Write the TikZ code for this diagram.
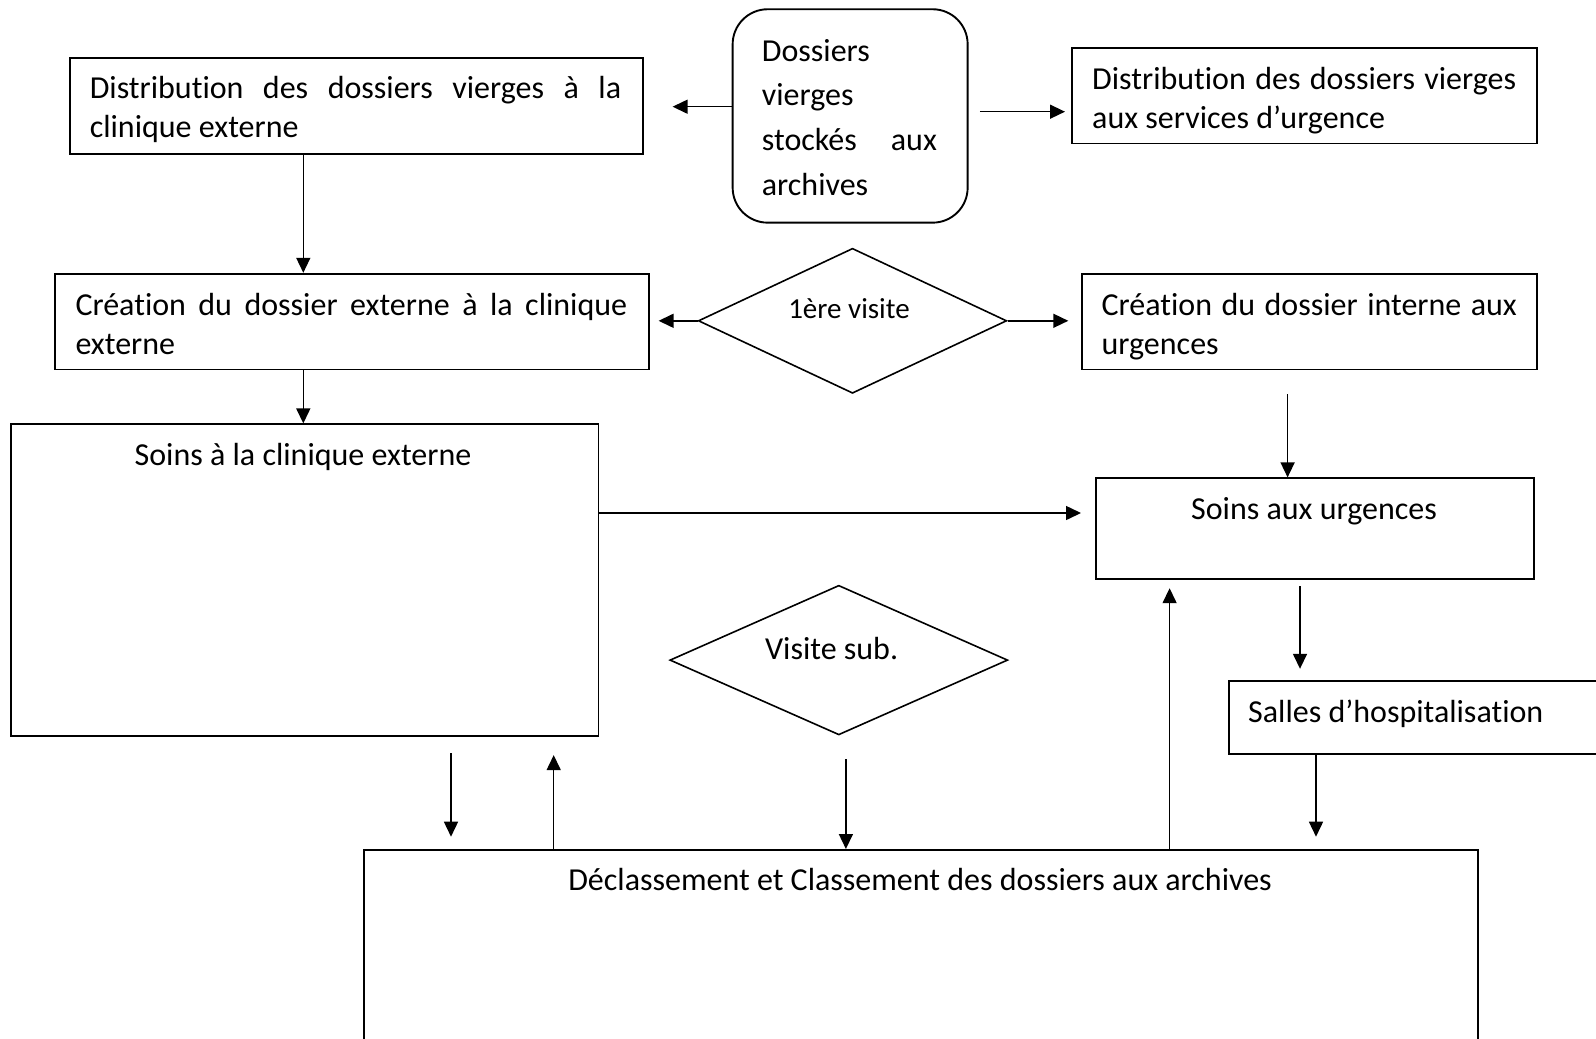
\documentclass[tikz,border=0pt]{standalone}
\usepackage{fontspec}
\setmainfont{Carlito}[RawFeature={-liga;-clig;-calt;-dlig}]
\usetikzlibrary{arrows.meta,shapes.geometric}
\hyphenpenalty=10000
\exhyphenpenalty=10000
\tolerance=10000
\hbadness=10000
\begin{document}
\begin{tikzpicture}[x=1pt,y=-1pt,
  box/.style={draw, line width=1.9pt, inner sep=0pt, anchor=north west},
  rbox/.style={box, rounded corners=35pt},
  dia/.style={draw, diamond, line width=1.6pt, inner sep=0pt},
  txt/.style={inner sep=0pt, font=\fontsize{32}{39}\selectfont},
  jtxt/.style={txt, anchor=base west, align=justify},
  ctxt/.style={txt, anchor=base},
  arr/.style={line width=1.5pt, -{Triangle[length=15pt,width=14pt]}},
]
\fill[white] (0,0) rectangle (1596,1039);
\useasboundingbox (0,0) rectangle (1596,1039);

% boxes
\node[box, minimum width=573.1pt, minimum height=95.7pt] (A) at (69.2,57) {};
\node[jtxt, text width=531.4pt] (At) at (89.6,98.5) {Distribution des dossiers vierges à la clinique externe};

\node[rbox, minimum width=235pt, minimum height=213.4pt] (B) at (731.7,8.3) {};
\node[txt, anchor=base west, align=left, text width=175pt, font=\fontsize{32}{44.8}\selectfont] (Bt) at (761.7,61) {Dossiers\\vierges\\stockés\hfill aux\\archives};

\node[box, minimum width=465.2pt, minimum height=95.7pt] (C) at (1070.8,46.8) {};
\node[jtxt, text width=424pt] (Ct) at (1092,89.4) {Distribution des dossiers vierges aux services d’urgence};

\node[box, minimum width=594.4pt, minimum height=95.7pt] (D) at (54,272.8) {};
\node[jtxt, text width=551.7pt] (Dt) at (75.3,315.4) {Création du dossier externe à la clinique externe};

\node[dia, minimum width=308.4pt, minimum height=145pt] (E) at (852.5,320.8) {};
\node[ctxt, font=\fontsize{29}{34}\selectfont] (Et) at (849,318.3) {1ère visite};

\node[box, minimum width=455pt, minimum height=95.7pt] (F) at (1081,272.8) {};
\node[jtxt, text width=415.3pt] (Ft) at (1101.4,315.4) {Création du dossier interne aux urgences};

\node[box, minimum width=587.3pt, minimum height=311.5pt] (G) at (10.2,423.4) {};
\node[ctxt] (Gt) at (303,465) {Soins à la clinique externe};

\node[box, minimum width=437.7pt, minimum height=100.8pt] (H) at (1095.3,477.4) {};
\node[ctxt] (Ht) at (1314,519) {Soins aux urgences};

\node[box, minimum width=400pt, minimum height=73.2pt] (I) at (1227.6,680) {};
\node[txt, anchor=base west] (It) at (1248,722) {Salles d’hospitalisation};

\node[dia, minimum width=337.9pt, minimum height=149.6pt] (J) at (838.8,660.1) {};
\node[ctxt] (Jt) at (831.6,659.4) {Visite sub.};

\node[box, minimum width=1113.6pt, minimum height=250pt] (K) at (363.4,849) {};
\node[ctxt] (Kt) at (920,890) {Déclassement et Classement des dossiers aux archives};

% helper coordinates
\coordinate (hBA) at (0,106.7);
\coordinate (hBC) at (0,111.7);
\coordinate (hGH) at (0,513);
\coordinate (vA) at (303.3,0);
\coordinate (vFH) at (1287.6,0);
\coordinate (vHI) at (1300,0);
\coordinate (vIK) at (1316,0);
\coordinate (vJK) at (845.9,0);
\coordinate (vGK) at (451,0);
\coordinate (vKG) at (553.7,0);
\coordinate (vKH) at (1169.6,0);

% connectors
\draw[arr, shorten >=28.4pt] (B.west |- hBA) -- (A.east |- hBA);
\draw[arr, shorten <=11.3pt, shorten >=5.8pt] (B.east |- hBC) -- (C.west |- hBC);
\draw[arr] (vA |- A.south) -- (vA |- D.north);
\draw[arr, shorten >=8.3pt] (E.west) -- (D.east |- E.west);
\draw[arr, shorten >=12.7pt] (E.east) -- (F.west |- E.east);
\draw[arr] (vA |- D.south) -- (vA |- G.north);
\draw[arr, shorten <=24pt] (vFH |- F.south) -- (vFH |- H.north);
\draw[arr, shorten >=14.3pt] (G.east |- hGH) -- (H.west |- hGH);
\draw[arr, shorten <=6.1pt, shorten >=11.2pt] (vHI |- H.south) -- (vHI |- I.north);
\draw[arr, shorten >=12.3pt] (vIK |- I.south) -- (vIK |- K.north);
\draw[arr, shorten <=23.4pt] (vJK |- J.south) -- (vJK |- K.north);
\draw[arr, shorten <=16.3pt, shorten >=12.3pt] (vGK |- G.south) -- (vGK |- K.north);
\draw[arr, shorten >=18.3pt] (vKG |- K.north) -- (vKG |- G.south);
\draw[arr, shorten >=8.1pt] (vKH |- K.north) -- (vKH |- H.south);
\end{tikzpicture}
\end{document}
